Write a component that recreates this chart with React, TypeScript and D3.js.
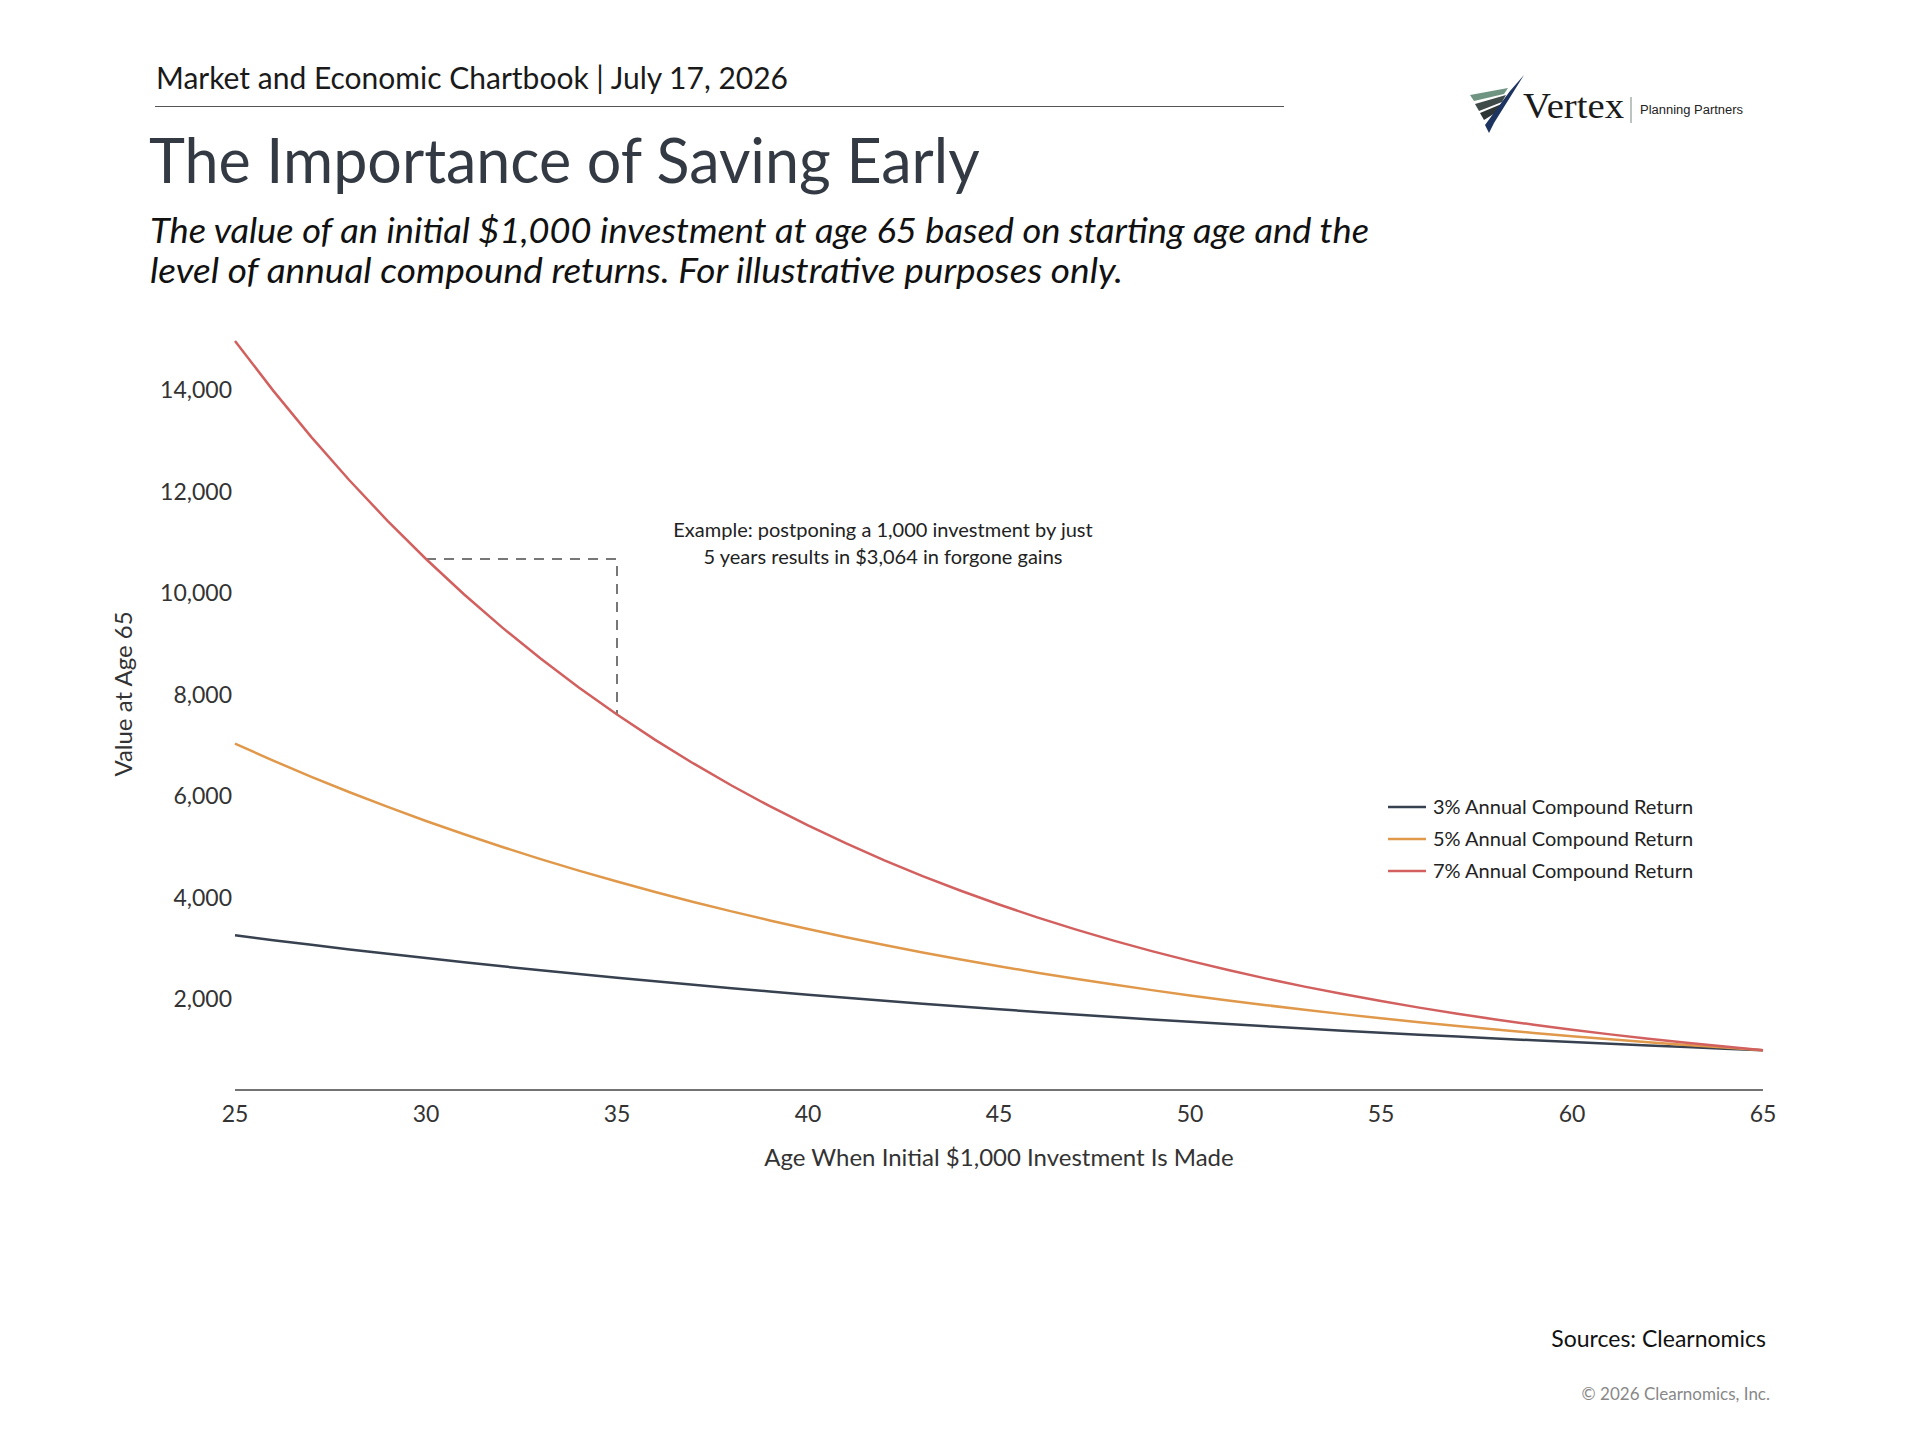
import * as d3 from "d3";

const ages = d3.range(25, 66);
const ret3 = [3262, 3167, 3075, 2985, 2898, 2814, 2732, 2652, 2575, 2500, 2427, 2357, 2288, 2221, 2157, 2094, 2033, 1974, 1916, 1860, 1806, 1754, 1702, 1653, 1605, 1558, 1513, 1469, 1426, 1384, 1344, 1305, 1267, 1230, 1194, 1159, 1126, 1093, 1061, 1030, 1000];
const ret5 = [7040, 6705, 6386, 6081, 5792, 5516, 5253, 5003, 4765, 4538, 4322, 4116, 3920, 3734, 3556, 3386, 3225, 3072, 2925, 2786, 2653, 2527, 2407, 2292, 2183, 2079, 1980, 1886, 1796, 1710, 1629, 1551, 1477, 1407, 1340, 1276, 1216, 1158, 1103, 1050, 1000];
const ret7 = [14974, 13995, 13079, 12224, 11424, 10677, 9978, 9325, 8715, 8145, 7612, 7114, 6649, 6214, 5807, 5427, 5072, 4741, 4430, 4141, 3870, 3617, 3380, 3159, 2952, 2759, 2579, 2410, 2252, 2105, 1967, 1838, 1718, 1606, 1501, 1403, 1311, 1225, 1145, 1070, 1000];

const seriesNames = ["3% Annual Compound Return", "5% Annual Compound Return", "7% Annual Compound Return"];
const seriesColors = ["#37414f", "#e0984a", "#d2605f"];
const yTicks = [2000, 4000, 6000, 8000, 10000, 12000, 14000];
const xTicks = [25, 30, 35, 40, 45, 50, 55, 60, 65];

// the example: start at 30 vs 35 on the 7% line
const exampleAges = [30, 35];

const W = 1918;
const H = 1439;
const FONT = "Lato, 'Noto Sans', sans-serif";

const x = d3.scaleLinear().domain([25, 65]).range([235, 1763]);
const y = d3.scaleLinear().domain([215, 15000]).range([1090, 339.6]);

const line = d3
  .line<number>()
  .x((_, i) => x(ages[i]))
  .y((d) => y(d));

const fmt = d3.format(",");

const Logo = () => (
  <g transform="translate(1468,75)">
    <polygon points="2,20 40,13 36,19 6,26" fill="#6f9482" />
    <polygon points="7,29 38,20 34,27 11,36" fill="#3f4b49" />
    <polygon points="12,38 36,28 32,35 16,45" fill="#2e3535" />
    <polygon points="56,0 26,48 21,58 17,50 42,16" fill="#1d3461" />
    <text
      x={55}
      y={43}
      fontFamily="'Liberation Serif', 'DejaVu Serif', serif"
      fontSize={36}
      fill="#1b1b1b"
      textLength={101}
      lengthAdjust="spacingAndGlyphs"
    >
      Vertex
    </text>
    <line x1={163} x2={163} y1={22} y2={48} stroke="#7a8a80" strokeWidth={1} />
    <text
      x={172}
      y={39}
      fontFamily="'Liberation Sans', Arial, sans-serif"
      fontSize={12}
      fill="#222"
      textLength={103}
      lengthAdjust="spacingAndGlyphs"
    >
      Planning Partners
    </text>
  </g>
);

export default function App() {
  const series = [ret3, ret5, ret7];
  const [a0, a1] = exampleAges;
  const v0 = ret7[ages.indexOf(a0)];
  const v1 = ret7[ages.indexOf(a1)];

  return (
    <svg
      width={W}
      height={H}
      style={{ position: "absolute", left: 0, top: 0, background: "#fff" }}
      fontFamily={FONT}
    >
      <rect width={W} height={H} fill="#fff" />

      {/* header */}
      <text x={156} y={89} fontSize={30} fill="#1a1a1a">
        Market and Economic Chartbook | July 17, 2026
      </text>
      <line x1={155} x2={1284} y1={106.5} y2={106.5} stroke="#555" strokeWidth={1.2} />
      <Logo />

      <text x={149} y={183} fontSize={61} fill="#333a43">
        The Importance of Saving Early
      </text>
      <text x={150} y={243} fontSize={34} fontStyle="italic" fill="#111" textLength={1219} lengthAdjust="spacingAndGlyphs">
        The value of an initial $1,000 investment at age 65 based on starting age and the
      </text>
      <text x={150} y={283} fontSize={34} fontStyle="italic" fill="#111" textLength={973} lengthAdjust="spacingAndGlyphs">
        level of annual compound returns. For illustrative purposes only.
      </text>

      {/* y axis labels */}
      {yTicks.map((t) => (
        <text key={t} x={232} y={y(t)} dy="0.35em" textAnchor="end" fontSize={23} fill="#333">
          {fmt(t)}
        </text>
      ))}
      <text transform="translate(132,694) rotate(-90)" textAnchor="middle" fontSize={24} fill="#333">
        Value at Age 65
      </text>

      {/* x axis */}
      <line x1={x(25)} x2={x(65)} y1={y(215)} y2={y(215)} stroke="#444" strokeWidth={1.5} />
      {xTicks.map((t) => (
        <text key={t} x={x(t)} y={1114} dy="0.35em" textAnchor="middle" fontSize={23} fill="#333">
          {t}
        </text>
      ))}
      <text x={(x(25) + x(65)) / 2} y={1158} dy="0.35em" textAnchor="middle" fontSize={24} fill="#333">
        Age When Initial $1,000 Investment Is Made
      </text>

      {/* example annotation */}
      <path
        d={`M${x(a0)},${y(v0)}H${x(a1)}V${y(v1)}`}
        fill="none"
        stroke="#777"
        strokeWidth={2}
        strokeDasharray="10,8"
      />
      <text x={883} y={530} dy="0.35em" textAnchor="middle" fontSize={20} fill="#222">
        Example: postponing a 1,000 investment by just
      </text>
      <text x={883} y={557} dy="0.35em" textAnchor="middle" fontSize={20} fill="#222">
        5 years results in $3,064 in forgone gains
      </text>

      {/* series */}
      {series.map((s, i) => (
        <path key={i} d={line(s) ?? ""} fill="none" stroke={seriesColors[i]} strokeWidth={2.5} />
      ))}

      {/* legend */}
      {seriesNames.map((n, i) => (
        <g key={n} transform={`translate(1388,${807 + i * 32})`}>
          <line x1={0} x2={38} stroke={seriesColors[i]} strokeWidth={2.5} />
          <text x={45} dy="0.35em" fontSize={20} fill="#222">
            {n}
          </text>
        </g>
      ))}

      {/* footer */}
      <text x={1766} y={1339} dy="0.35em" textAnchor="end" fontSize={23} fill="#111">
        Sources: Clearnomics
      </text>
      <text x={1770} y={1394} dy="0.35em" textAnchor="end" fontSize={17} fill="#888">
        © 2026 Clearnomics, Inc.
      </text>
    </svg>
  );
}
